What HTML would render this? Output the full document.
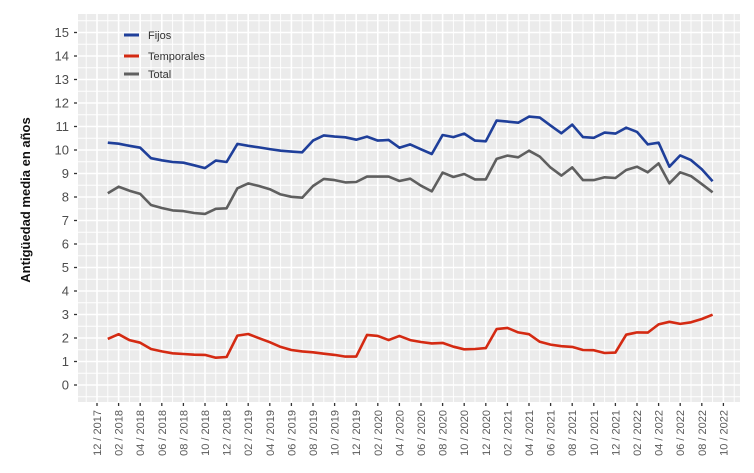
<!DOCTYPE html>
<html><head><meta charset="utf-8"><style>
body{margin:0;background:#fff;}
svg{display:block;font-family:"Liberation Sans",sans-serif;}
</style></head><body>
<svg id="chart" width="754" height="473"></svg>
<script>
const fijos=[10.31,10.27,10.18,10.10,9.65,9.56,9.49,9.46,9.35,9.23,9.55,9.49,10.26,10.18,10.11,10.04,9.97,9.93,9.90,10.40,10.62,10.57,10.54,10.44,10.57,10.40,10.43,10.10,10.24,10.03,9.83,10.64,10.55,10.70,10.40,10.37,11.25,11.21,11.16,11.42,11.38,11.04,10.71,11.08,10.55,10.52,10.74,10.70,10.95,10.77,10.24,10.31,9.29,9.77,9.57,9.18,8.67];
const temporales=[1.96,2.16,1.91,1.80,1.53,1.43,1.35,1.32,1.29,1.28,1.16,1.19,2.10,2.17,1.99,1.82,1.62,1.49,1.43,1.39,1.33,1.28,1.21,1.21,2.13,2.09,1.91,2.09,1.91,1.83,1.77,1.79,1.63,1.52,1.53,1.57,2.38,2.43,2.24,2.16,1.84,1.72,1.65,1.62,1.49,1.48,1.36,1.38,2.14,2.24,2.23,2.58,2.69,2.60,2.67,2.81,2.99];
const total=[8.16,8.44,8.27,8.13,7.66,7.53,7.43,7.40,7.32,7.28,7.50,7.52,8.37,8.58,8.47,8.33,8.11,8.01,7.97,8.47,8.77,8.72,8.62,8.64,8.87,8.87,8.87,8.68,8.78,8.48,8.24,9.04,8.85,8.98,8.75,8.75,9.62,9.76,9.69,9.97,9.72,9.25,8.91,9.26,8.72,8.72,8.84,8.81,9.15,9.29,9.05,9.43,8.58,9.05,8.89,8.55,8.20];
const yTicks=[0,1,2,3,4,5,6,7,8,9,10,11,12,13,14,15];
const xLabels=["12 / 2017","02 / 2018","04 / 2018","06 / 2018","08 / 2018","10 / 2018","12 / 2018","02 / 2019","04 / 2019","06 / 2019","08 / 2019","10 / 2019","12 / 2019","02 / 2020","04 / 2020","06 / 2020","08 / 2020","10 / 2020","12 / 2020","02 / 2021","04 / 2021","06 / 2021","08 / 2021","10 / 2021","12 / 2021","02 / 2022","04 / 2022","06 / 2022","08 / 2022","10 / 2022"];
const seriesNames=["Fijos","Temporales","Total"];
const colors=["#1f3f9a","#d42a12","#5f5f5f"];

const NS="http://www.w3.org/2000/svg";
const svg=document.getElementById('chart');
const L=78,R=740,T=14,B=402;
function xs(m){return 97+m*10.8;}      // m: months since 12/2017
function ys(v){return 385-v*23.5;}
function el(t,a,p){const e=document.createElementNS(NS,t);for(const k in a)e.setAttribute(k,a[k]);(p||svg).appendChild(e);return e;}

const bg=el('rect',{x:L,y:T,width:R-L,height:B-T,fill:'#ebebeb'});


const grid=el('g',{});


for(let v=-0.5;v<=15.5;v+=0.5){const y=ys(v);if(y<T||y>B)continue;
 el('line',{x1:L,x2:R,y1:y,y2:y,stroke:'#fff','stroke-width':Number.isInteger(v)?1.6:0.9},grid);}
for(let m=-2;m<=60;m++){const x=xs(m);if(x<L||x>R)continue;
 el('line',{x1:x,x2:x,y1:T,y2:B,stroke:'#fff','stroke-width':m%2===0?1.6:0.9},grid);}

yTicks.forEach(v=>{const y=ys(v);
 el('line',{x1:74,x2:77,y1:y,y2:y,stroke:'#333','stroke-width':1.3});
 const t=el('text',{x:69,y:y+4.5,'text-anchor':'end','font-size':13,fill:'#4d4d4d'});t.textContent=v;
 
 
});
xLabels.forEach((s,k)=>{const x=xs(2*k);
 el('line',{x1:x,x2:x,y1:403,y2:406,stroke:'#333','stroke-width':1.3});
 const t=el('text',{x:0,y:0,'text-anchor':'end','font-size':11,fill:'#595959',transform:`translate(${x+4},410) rotate(-90)`});t.textContent=s;
 
 
});
const yt=el('text',{x:0,y:0,'text-anchor':'middle','font-size':13,'font-weight':'bold',fill:'#111',transform:'translate(30,200) rotate(-90)'});
yt.textContent='Antigüedad media en años';



[fijos,temporales,total].forEach((arr,s)=>{
 const pts=arr.map((v,i)=>xs(i+1).toFixed(1)+','+ys(v).toFixed(1)).join(' ');
 const p=el('polyline',{points:pts,fill:'none',stroke:colors[s],'stroke-width':2.6,'stroke-linejoin':'round'});
 
 
});

const legY=[35,56,74];
seriesNames.forEach((n,s)=>{
 const g=el('g',{});
 
 
 el('line',{x1:124,x2:139,y1:legY[s],y2:legY[s],stroke:colors[s],'stroke-width':3},g);
 const t=el('text',{x:148,y:legY[s]+4,'font-size':11,fill:'#333'},g);t.textContent=n;
});
</script>
</body></html>
